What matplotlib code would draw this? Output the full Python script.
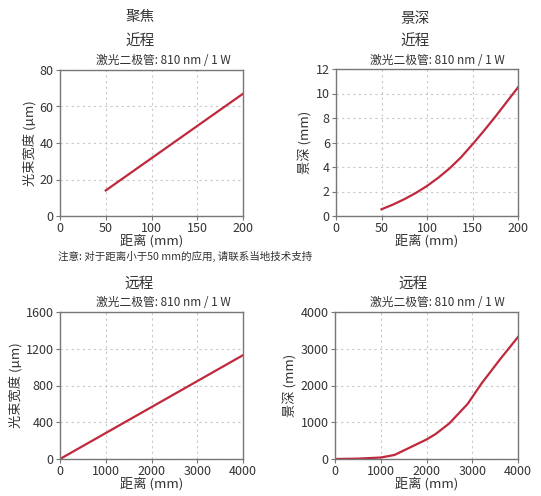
import matplotlib
matplotlib.use("Agg")
import matplotlib.pyplot as plt

plt.rcParams['font.family'] = ['Noto Sans CJK SC', 'DejaVu Sans']

# Data
near_x_width = [50, 200]
near_width = [14, 67]
near_x_dof = [50, 62.5, 75, 87.5, 100, 112.5, 125, 137.5, 150, 162.5, 175, 187.5, 200]
near_dof = [0.55, 0.93, 1.37, 1.87, 2.45, 3.13, 3.9, 4.8, 5.85, 6.95, 8.1, 9.3, 10.5]
far_x_width = [0, 4000]
far_width = [0, 1130]
far_x_dof = [0, 500, 1000, 1300, 1700, 2000, 2200, 2500, 2900, 3200, 3600, 4000]
far_dof = [0, 10, 40, 110, 350, 530, 680, 970, 1500, 2050, 2700, 3320]

near_xticks = [0, 50, 100, 150, 200]
far_xticks = [0, 1000, 2000, 3000, 4000]

title_focus = "聚焦"
title_dof = "景深"
title_near = "近程"
title_far = "远程"
subtitle = "激光二极管: 810 nm / 1 W"
xlabel = "距离 (mm)"
ylabel_width = "光束宽度 (µm)"
ylabel_dof = "景深 (mm)"
note = "注意: 对于距离小于50 mm的应用, 请联系当地技术支持"

W, H = 541, 496
fig = plt.figure(figsize=(W / 100, H / 100), dpi=100)
txt = '#333333'
red = '#c0283c'


def ax_at(l, t, r, b):
    return fig.add_axes([l / W, 1 - b / H, (r - l) / W, (b - t) / H])


def style(ax, xticks, yticks, xlim, ylim, yl):
    ax.set_xlim(*xlim)
    ax.set_ylim(*ylim)
    ax.set_xticks(xticks)
    ax.set_yticks(yticks)
    ax.grid(True, linestyle=(0, (2, 3)), color='#c8c8c8', linewidth=0.8)
    for s in ax.spines.values():
        s.set_color('#777777')
        s.set_linewidth(1.0)
    ax.tick_params(length=3, width=0.8, colors='#777777', labelcolor=txt, labelsize=9, pad=1.5)
    ax.set_xlabel(xlabel, fontsize=9.5, color=txt, labelpad=-1)
    ax.set_ylabel(yl, fontsize=9.5, color=txt, labelpad=2)


ax1 = ax_at(60, 70, 243, 216)
ax1.plot(near_x_width, near_width, color=red, lw=1.6)
style(ax1, near_xticks, [0, 20, 40, 60, 80], (0, 200), (0, 80), ylabel_width)

ax2 = ax_at(336, 69, 518, 216)
ax2.plot(near_x_dof, near_dof, color=red, lw=1.6)
style(ax2, near_xticks, [0, 2, 4, 6, 8, 10, 12], (0, 200), (0, 12), ylabel_dof)

ax3 = ax_at(60, 312, 243, 459)
ax3.plot(far_x_width, far_width, color=red, lw=1.6)
style(ax3, far_xticks, [0, 400, 800, 1200, 1600], (0, 4000), (0, 1600), ylabel_width)

ax4 = ax_at(335, 312, 518, 459)
ax4.plot(far_x_dof, far_dof, color=red, lw=1.6)
style(ax4, far_xticks, [0, 1000, 2000, 3000, 4000], (0, 4000), (0, 4000), ylabel_dof)


def ftext(x, y, s, size, ha='center'):
    fig.text(x / W, 1 - y / H, s, fontsize=size, color=txt, ha=ha, va='center')


ftext(140, 17, title_focus, 10.5)
ftext(140, 42, title_near, 10.5)
ftext(163, 60, subtitle, 8.5)
ftext(415, 19, title_dof, 10.5)
ftext(415, 42, title_near, 10.5)
ftext(437, 60, subtitle, 8.5)
ftext(139, 284, title_far, 10.5)
ftext(163, 303, subtitle, 8.5)
ftext(413, 284, title_far, 10.5)
ftext(437, 303, subtitle, 8.5)
ftext(58, 256, note, 7.6, ha='left')

fig.savefig('out.png', dpi=100)
